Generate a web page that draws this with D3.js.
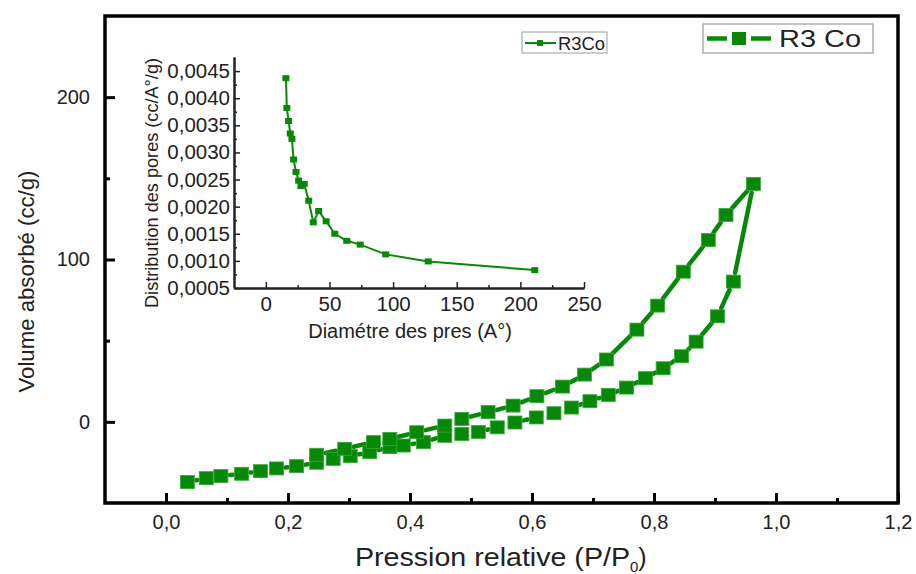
<!DOCTYPE html>
<html>
<head>
<meta charset="utf-8">
<script src="https://cdn.jsdelivr.net/npm/d3@7"></script>
<style>
  body { margin: 0; background: #fff; }
  text { font-family: "Liberation Sans", Arial, sans-serif; fill: #222; }
</style>
</head>
<body>
<script>
// isotherme : branche adsorption (bas) puis desorption (haut)
const adsP = [0.035, 0.066, 0.090, 0.124, 0.155, 0.181, 0.214, 0.247, 0.274, 0.302, 0.334, 0.367, 0.389, 0.422,
  0.457, 0.485, 0.512, 0.543, 0.572, 0.607, 0.636, 0.665, 0.695, 0.725, 0.755, 0.786, 0.815, 0.845, 0.869, 0.904, 0.930, 0.963]
const adsV = [-37.1, -34.7, -33.4, -32.0, -30.4, -28.7, -27.3, -25.2, -22.8, -21.1, -18.7, -15.6, -14.6, -12.5,
  -8.6, -7.5, -6.2, -3.4, -0.4, 2.7, 5.3, 8.8, 12.7, 16.6, 21.1, 26.9, 33.0, 40.4, 49.4, 65.0, 86.4, 146.5]
const desP = [0.963, 0.918, 0.889, 0.848, 0.806, 0.772, 0.722, 0.686, 0.650, 0.608, 0.569, 0.528, 0.485, 0.457, 0.411, 0.367, 0.340, 0.293, 0.247]
const desV = [146.5, 127.4, 112.0, 92.5, 71.6, 56.8, 38.4, 29.1, 21.7, 15.8, 10.0, 6.0, 1.8, -2.3, -6.4, -10.5, -12.5, -16.6, -20.3]

// distribution des pores (inset)
const poreD = [15.8, 16.5, 17.9, 19.2, 20.5, 21.8, 23.7, 25.8, 27.6, 30.2, 33.7, 37.3, 41.5, 47.4, 54.2, 63.6, 74.2, 94.2, 127.6, 211.3]
const poreV = [0.00437, 0.00382, 0.00358, 0.00335, 0.00325, 0.00287, 0.00264, 0.00248, 0.00238, 0.00242, 0.00211,
  0.00171, 0.00192, 0.00173, 0.00150, 0.00137, 0.00130, 0.00112, 0.00099, 0.00083]

const xTicks = [0, 0.2, 0.4, 0.6, 0.8, 1.0, 1.2]
const xMinor = [0.1, 0.3, 0.5, 0.7, 0.9, 1.1]
const yTicks = [0, 100, 200]
const yMinor = [50, 150]
const xiTicks = [0, 50, 100, 150, 200, 250]
const xiMinor = [25, 75, 125, 175, 225]
const yiTicks = [0.0005, 0.0010, 0.0015, 0.0020, 0.0025, 0.0030, 0.0035, 0.0040, 0.0045]
const yiMinor = [0.00075, 0.00125, 0.00175, 0.00225, 0.00275, 0.00325, 0.00375, 0.00425]

const green = '#088808'
const w = 916
const h = 574
const comma = (f) => (d) => d3.format(f)(d).replace('.', ',')

const svg = d3.select('body')
  .append('svg')
  .attr('width', w)
  .attr('height', h)

// ---------- main plot ----------
const x = d3.scaleLinear().domain([-0.1, 1.2]).range([105, 898])
const y = d3.scaleLinear().domain([-50, 250]).range([503, 16])

const gx = svg.append('g')
  .attr('transform', `translate(0,${y(-50)})`)
  .call(d3.axisBottom(x).tickValues(xTicks).tickSizeInner(-10).tickSizeOuter(0).tickPadding(12).tickFormat(comma('.1f')))
gx.append('g').call(d3.axisBottom(x).tickValues(xMinor).tickSizeInner(-5).tickSizeOuter(0).tickFormat(''))

const gy = svg.append('g')
  .attr('transform', `translate(${x(-0.1)},0)`)
  .call(d3.axisLeft(y).tickValues(yTicks).tickSizeInner(-10).tickSizeOuter(0).tickPadding(15))
gy.append('g').call(d3.axisLeft(y).tickValues(yMinor).tickSizeInner(-5).tickSizeOuter(0).tickFormat(''))

for (const g of [gx, gy]) {
  g.selectAll('.domain').remove()
  g.selectAll('line').attr('stroke', '#000').attr('stroke-width', 3)
  g.selectAll('text').attr('font-size', 20).attr('fill', '#222').style('font-family', '"Liberation Sans", Arial, sans-serif')
}

// frame
svg.append('rect')
  .attr('x', x(-0.1))
  .attr('y', y(250))
  .attr('width', x(1.2) - x(-0.1))
  .attr('height', y(-50) - y(250))
  .attr('fill', 'none')
  .attr('stroke', '#000')
  .attr('stroke-width', 3.5)

// titles
svg.append('text')
  .attr('transform', `translate(34,${(y(250) + y(-50)) / 2 + 22}) rotate(-90)`)
  .attr('text-anchor', 'middle')
  .attr('font-size', 22)
  .attr('textLength', 222)
  .attr('lengthAdjust', 'spacingAndGlyphs')
  .text('Volume absorbé (cc/g)')

const xt = svg.append('text')
  .attr('x', 355)
  .attr('y', 566)
  .attr('font-size', 25)
xt.append('tspan').attr('textLength', 275).attr('lengthAdjust', 'spacingAndGlyphs').text('Pression relative (P/P')
xt.append('tspan').attr('font-size', 15).attr('dy', 6).text('0')
xt.append('tspan').attr('dy', -6).text(')')

// hysteresis loop, segments stop short of the symbols (Origin gap)
const loop = adsP.map((p, i) => [p, adsV[i]]).concat(desP.slice(1).map((p, i) => [p, desV[i + 1]]))
const gap = 9
const segs = []
for (let i = 0; i < loop.length - 1; i++) {
  const x1 = x(loop[i][0]), y1 = y(loop[i][1]), x2 = x(loop[i + 1][0]), y2 = y(loop[i + 1][1])
  const len = Math.hypot(x2 - x1, y2 - y1)
  if (len > 2 * gap + 1) {
    const ux = (x2 - x1) / len, uy = (y2 - y1) / len
    segs.push([x1 + ux * gap, y1 + uy * gap, x2 - ux * gap, y2 - uy * gap])
  }
}
svg.append('g').selectAll('line')
  .data(segs)
  .enter()
  .append('line')
  .attr('x1', (d) => d[0])
  .attr('y1', (d) => d[1])
  .attr('x2', (d) => d[2])
  .attr('y2', (d) => d[3])
  .attr('stroke', green)
  .attr('stroke-width', 4.5)
  .attr('stroke-linecap', 'round')

svg.append('g').selectAll('rect')
  .data(loop)
  .enter()
  .append('rect')
  .attr('x', (d) => x(d[0]) - 7)
  .attr('y', (d) => y(d[1]) - 6.5)
  .attr('width', 14)
  .attr('height', 13)
  .attr('fill', green)
  .attr('stroke', '#36a836')
  .attr('stroke-width', 0.8)

// legend
svg.append('rect').attr('x', 703).attr('y', 24).attr('width', 170).attr('height', 29)
  .attr('fill', '#fff').attr('stroke', '#9a9a9a').attr('stroke-width', 1.2)
svg.append('line').attr('x1', 707).attr('x2', 727).attr('y1', 38.5).attr('y2', 38.5)
  .attr('stroke', green).attr('stroke-width', 4.5)
svg.append('line').attr('x1', 751).attr('x2', 771).attr('y1', 38.5).attr('y2', 38.5)
  .attr('stroke', green).attr('stroke-width', 4.5)
svg.append('rect').attr('x', 732).attr('y', 32).attr('width', 14).attr('height', 13).attr('fill', green)
svg.append('text').attr('x', 779).attr('y', 47).attr('font-size', 24)
  .attr('textLength', 82).attr('lengthAdjust', 'spacingAndGlyphs').text('R3 Co')

// ---------- inset ----------
const xi = d3.scaleLinear().domain([-25, 250]).range([234, 584])
const yi = d3.scaleLinear().domain([0.0005, 0.00476]).range([288, 57])

const gxi = svg.append('g')
  .attr('transform', `translate(0,${yi(0.0005)})`)
  .call(d3.axisBottom(xi).tickValues(xiTicks).tickSizeInner(-6).tickSizeOuter(0).tickPadding(8))
gxi.append('g').call(d3.axisBottom(xi).tickValues(xiMinor).tickSizeInner(-3).tickSizeOuter(0).tickFormat(''))

const gyi = svg.append('g')
  .attr('transform', `translate(${xi(-25)},0)`)
  .call(d3.axisLeft(yi).tickValues(yiTicks).tickSizeInner(-6).tickSizeOuter(0).tickPadding(4).tickFormat(comma('.4f')))
gyi.append('g').call(d3.axisLeft(yi).tickValues(yiMinor).tickSizeInner(-3).tickSizeOuter(0).tickFormat(''))

for (const g of [gxi, gyi]) {
  g.selectAll('.domain').attr('stroke', '#222').attr('stroke-width', 2)
  g.selectAll('line').attr('stroke', '#222').attr('stroke-width', 1.5)
  g.selectAll('text').attr('font-size', 20.5).attr('fill', '#222').style('font-family', '"Liberation Sans", Arial, sans-serif')
}

svg.append('text')
  .attr('transform', `translate(158,183) rotate(-90)`)
  .attr('text-anchor', 'middle')
  .attr('font-size', 18)
  .attr('textLength', 250)
  .attr('lengthAdjust', 'spacingAndGlyphs')
  .text('Distribution des pores (cc/A°/g)')

svg.append('text')
  .attr('x', 410)
  .attr('y', 338)
  .attr('text-anchor', 'middle')
  .attr('font-size', 20)
  .text('Diamétre des pres (A°)')

svg.append('path')
  .datum(poreD.map((d, i) => [d, poreV[i]]))
  .attr('d', d3.line().x((d) => xi(d[0])).y((d) => yi(d[1])))
  .attr('fill', 'none')
  .attr('stroke', green)
  .attr('stroke-width', 2)

svg.append('g').selectAll('rect')
  .data(poreD.map((d, i) => [d, poreV[i]]))
  .enter()
  .append('rect')
  .attr('x', (d) => xi(d[0]) - 3.5)
  .attr('y', (d) => yi(d[1]) - 3)
  .attr('width', 7)
  .attr('height', 6)
  .attr('fill', green)

// inset legend
svg.append('rect').attr('x', 522).attr('y', 32).attr('width', 85).attr('height', 21)
  .attr('fill', '#fff').attr('stroke', '#9a9a9a').attr('stroke-width', 1)
svg.append('line').attr('x1', 525).attr('x2', 556).attr('y1', 43).attr('y2', 43)
  .attr('stroke', green).attr('stroke-width', 2)
svg.append('rect').attr('x', 537).attr('y', 40).attr('width', 6).attr('height', 6).attr('fill', green)
svg.append('text').attr('x', 558).attr('y', 49.5).attr('font-size', 18)
  .attr('textLength', 47).attr('lengthAdjust', 'spacingAndGlyphs').text('R3Co')
</script>
</body>
</html>
